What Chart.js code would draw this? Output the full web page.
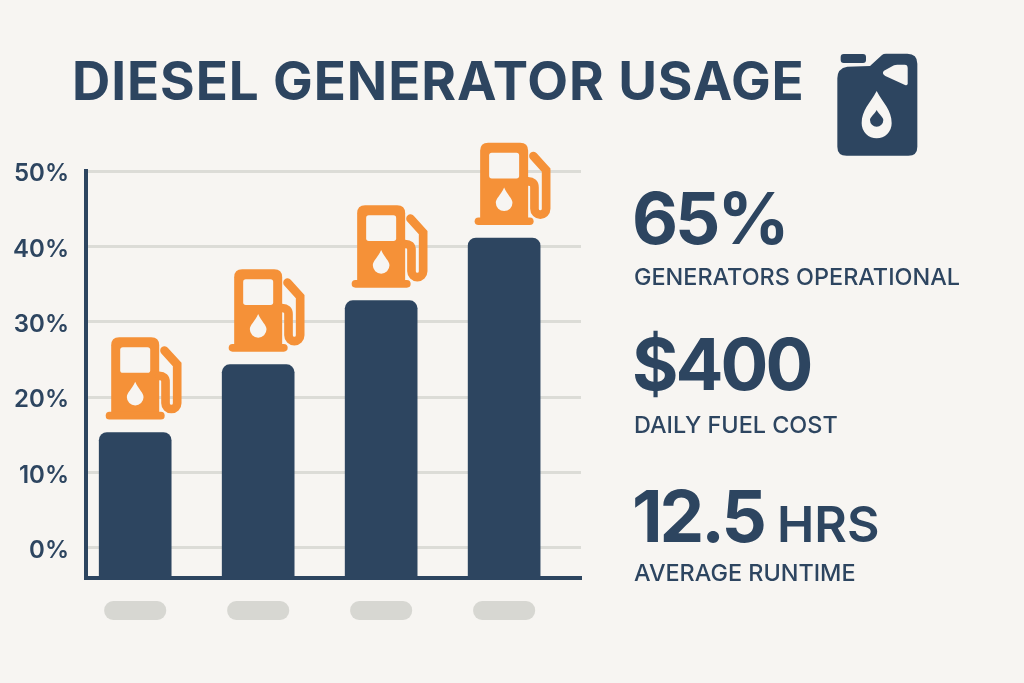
<!DOCTYPE html>
<html>
<head>
<meta charset="utf-8">
<title>Diesel Generator Usage</title>
<script src="https://cdn.jsdelivr.net/npm/chart.js@4"></script>
<style>
  html, body { margin: 0; padding: 0; background: #f7f5f2; }
  body { position: relative; width: 1024px; height: 683px; overflow: hidden; font-family: Inter, sans-serif; color: #2d4560; }
  #chart { position: absolute; left: 0; top: 0; }
  .txt { position: absolute; white-space: nowrap; line-height: 1; }
  h1.txt { left: 72px; top: 55px; margin: 0; font-size: 53px; font-weight: 700; letter-spacing: 0.9px; }
  .num { left: 632px; font-size: 71px; font-weight: 700; letter-spacing: -3px; }
  .num small { font-size: 50px; font-weight: 600; margin-left: 13px; letter-spacing: 0; }
  .cap { left: 634px; font-size: 23.4px; font-weight: 500; }
  #can { position: absolute; left: 820px; top: 40px; }
</style>
</head>
<body>
<h1 class="txt" id="title"></h1>
<svg id="can" width="110" height="125" viewBox="0 0 330 375">
  <rect x="62" y="42" width="76" height="27" rx="9" fill="#2d4560"/>
  <path fill="#2d4560" d="M52 115 Q52 85 82 80 L150 78 L186 45 Q190 41 198 41 L262 41 Q292 41 292 71 L292 320 Q292 347 265 347 L80 347 Q52 347 52 320 Z"/>
  <path fill="#f7f5f2" d="M192 92 L222 76 Q226 74 232 74 L254 74 Q263 74 263 84 L263 130 Q263 138 255 135 L196 108 Q184 100 192 92 Z"/>
  <path fill="#f7f5f2" d="M170 153 C190 190 215 210 215 250 A45 45 0 0 1 125 250 C125 210 150 190 170 153 Z"/>
  <path fill="#2d4560" d="M170 210 C178 224 190 232 190 240 A20 20 0 0 1 150 240 C150 232 162 224 170 210 Z"/>
</svg>
<canvas id="chart" width="1024" height="683"></canvas>
<script>
const TITLE = 'DIESEL GENERATOR USAGE';
const categories = ['Generator 1', 'Generator 2', 'Generator 3', 'Generator 4'];
const usage = [15.3, 24.3, 32.8, 41.1];
const yTicks = [0, 10, 20, 30, 40, 50];
const yFloor = -4;

const statNumbers = ['65%', '$400', '12.5'];
const statUnits = ['', '', 'HRS'];
const statCaptions = ['GENERATORS OPERATIONAL', 'DAILY FUEL COST', 'AVERAGE RUNTIME'];

const navy = '#2d4560';
const orange = '#f59138';
const page = '#f7f5f2';

document.getElementById('title').textContent = TITLE;

// Kennzahlen rechts
const numTops = [183, 329, 481];
const capTops = [265, 413, 561];
statNumbers.forEach((n, i) => {
  const d = document.createElement('div');
  d.className = 'txt num';
  d.style.top = numTops[i] + 'px';
  d.textContent = n;
  if (statUnits[i]) {
    const s = document.createElement('small');
    s.textContent = statUnits[i];
    d.appendChild(s);
  }
  document.body.appendChild(d);
  const c = document.createElement('div');
  c.className = 'txt cap';
  c.style.top = capTops[i] + 'px';
  c.textContent = statCaptions[i];
  document.body.appendChild(c);
});

// Zapfsäule in 3x-Koordinaten, Anker = Mitte Fußplatte unten
const pumpBody = new Path2D('M68 62 Q68 38 92 38 L188 38 Q212 38 212 62 L212 270 L68 270 Z');
const pumpBase = new Path2D('M63 262 L217 262 A11.5 11.5 0 0 1 217 285 L63 285 A11.5 11.5 0 0 1 63 262 Z');
const pumpWindow = new Path2D('M103 68 L177 68 Q185 68 185 76 L185 137 Q185 145 177 145 L103 145 Q95 145 95 137 L95 76 Q95 68 103 68 Z');
const pumpDrop = new Path2D('M140 172 C150 195 165 205 165 218 A25 25 0 0 1 115 218 C115 205 130 195 140 172 Z');
const pumpHose = new Path2D('M228 78 L266 120 L266 236 A17.5 17.5 0 0 1 231 236 L231 172 Q231 154 212 154');

const pumpIcons = {
  id: 'pumpIcons',
  afterDatasetsDraw(chart) {
    const { ctx } = chart;
    chart.getDatasetMeta(0).data.forEach((bar) => {
      ctx.save();
      ctx.translate(bar.x, bar.y - 13);
      ctx.scale(1 / 3, 1 / 3);
      ctx.translate(-140, -285);
      ctx.fillStyle = orange;
      ctx.fill(pumpBody);
      ctx.fill(pumpBase);
      ctx.strokeStyle = orange;
      ctx.lineWidth = 26;
      ctx.lineCap = 'round';
      ctx.stroke(pumpHose);
      ctx.fillStyle = page;
      ctx.fill(pumpWindow);
      ctx.fill(pumpDrop);
      ctx.restore();
    });
  },
};

// graue Platzhalter statt Achsenbeschriftung
const labelPills = {
  id: 'labelPills',
  afterDraw(chart) {
    const { ctx } = chart;
    chart.getDatasetMeta(0).data.forEach((bar) => {
      ctx.beginPath();
      ctx.roundRect(bar.x - 31, 601, 62, 19, 9);
      ctx.fillStyle = '#d7d7d2';
      ctx.fill();
    });
  },
};

new Chart(document.getElementById('chart'), {
  type: 'bar',
  data: {
    datasets: [{
      label: 'Usage',
      data: categories.map((c, i) => ({ x: i + 1, y: usage[i] })),
      base: yFloor,
      backgroundColor: navy,
      borderRadius: { topLeft: 8, topRight: 8, bottomLeft: 0, bottomRight: 0 },
      borderSkipped: false,
      barThickness: 72,
    }],
  },
  options: {
    responsive: false,
    animation: false,
    layout: { padding: { top: 171, right: 443, left: 0, bottom: 0 } },
    plugins: { legend: { display: false }, title: { display: false }, tooltip: { enabled: false } },
    scales: {
      x: {
        type: 'linear',
        offset: false,
        min: 0.6,
        max: 4.625,
        grid: { display: false },
        ticks: { display: false },
        border: { color: navy, width: 4 },
        afterFit(s) { s.height = 105; },
      },
      y: {
        min: yFloor,
        max: 50,
        afterBuildTicks(s) { s.ticks = yTicks.map((v) => ({ value: v })); },
        grid: { color: '#dcdcd7', lineWidth: 3, drawTicks: false },
        border: { color: navy, width: 4 },
        ticks: {
          color: navy,
          padding: 17,
          labelOffset: 3,
          font: { family: 'Inter', size: 24, weight: '600' },
          callback: (v) => v + '%',
        },
        afterFit(s) { s.width = 86; },
      },
    },
  },
  plugins: [pumpIcons, labelPills],
});
</script>
</body>
</html>
